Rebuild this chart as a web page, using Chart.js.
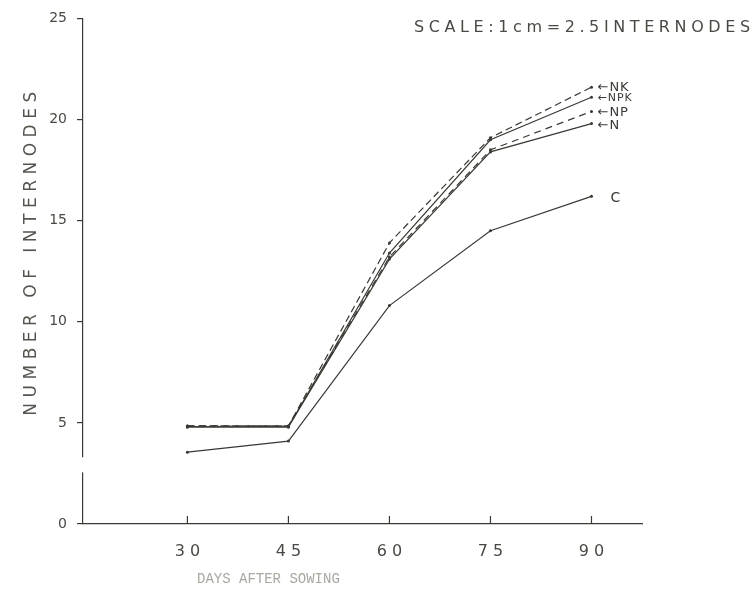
<!DOCTYPE html>
<html>
<head>
<meta charset="utf-8">
<script src="https://cdn.jsdelivr.net/npm/chart.js@4/dist/chart.umd.min.js"></script>
<style>
  html, body { margin: 0; padding: 0; background: #fff; }
  #wrap { width: 756px; height: 594px; }
</style>
</head>
<body>
<div id="wrap"><canvas id="graph" width="756" height="594"></canvas></div>
<script>
// days after sowing
const days = [30, 45, 60, 75, 90];
const yTicks = [0, 5, 10, 15, 20, 25];

// number of internodes per treatment
const nk  = [4.85, 4.85, 13.9, 19.1, 21.6];
const npk = [4.8, 4.8, 13.4, 19.0, 21.1];
const np  = [4.85, 4.85, 13.2, 18.5, 20.4];
const n   = [4.8, 4.8, 13.1, 18.4, 19.8];
const c   = [3.55, 4.1, 10.8, 14.5, 16.2];

const names = ['NK', 'NPK', 'NP', 'N', 'C'];
const series = [nk, npk, np, n, c];
const dashes = [[7, 4], [], [7, 5], [], []];

const ink = '#3a3a34';

const datasets = series.map((vals, i) => ({
  label: names[i],
  data: vals.map((v, j) => ({ x: days[j], y: v })),
  borderColor: ink,
  borderWidth: 1.2,
  borderDash: dashes[i],
  pointRadius: 1.5,
  pointBackgroundColor: ink,
  pointBorderWidth: 0,
  fill: false,
  tension: 0
}));

// hand drawn bits: x ticks pointing up, broken y axis, titles and curve labels
const extras = {
  id: 'extras',
  afterDraw(chart) {
    const ctx = chart.ctx;
    const xs = chart.scales.x, ys = chart.scales.y;
    const base = ys.getPixelForValue(0);
    ctx.save();
    ctx.strokeStyle = ink;
    ctx.lineWidth = 1.2;
    days.forEach(d => {
      const px = xs.getPixelForValue(d);
      ctx.beginPath();
      ctx.moveTo(px, base);
      ctx.lineTo(px, base - 8);
      ctx.stroke();
    });

    // gap in the y axis
    ctx.fillStyle = '#fff';
    const g1 = ys.getPixelForValue(3.3), g2 = ys.getPixelForValue(2.55);
    ctx.fillRect(xs.left - 3, g1, 6, g2 - g1);

    // scale note
    ctx.fillStyle = '#4a4a44';
    ctx.font = '16px "DejaVu Sans"';
    ctx.letterSpacing = '4.6px';
    ctx.textAlign = 'left';
    ctx.textBaseline = 'middle';
    ctx.fillText('SCALE:1cm=2.5INTERNODES', 414, 28);

    // y title
    ctx.save();
    ctx.translate(32, 251);
    ctx.rotate(-Math.PI / 2);
    ctx.textAlign = 'center';
    ctx.font = '17px "DejaVu Sans"';
    ctx.letterSpacing = '5.5px';
    ctx.fillStyle = '#55554f';
    ctx.fillText('NUMBER OF INTERNODES', 0, 0);
    ctx.restore();

    // x title
    ctx.font = '14px "Liberation Mono"';
    ctx.letterSpacing = '0px';
    ctx.fillStyle = '#a8a8a0';
    ctx.textAlign = 'left';
    ctx.fillText('DAYS AFTER SOWING', 197, 579);

    // curve labels
    ctx.fillStyle = '#3a3a34';
    const offs = [0, 1, 1, 2, 0];
    series.forEach((vals, i) => {
      const last = vals[vals.length - 1];
      const py = ys.getPixelForValue(last) + offs[i];
      const px = xs.getPixelForValue(days[days.length - 1]);
      if (names[i] === 'C') {
        ctx.font = '14px "DejaVu Sans"';
        ctx.fillText('C', px + 19, py + 2);
      } else {
        ctx.font = (names[i] === 'NPK' ? '11px' : '13px') + ' "DejaVu Sans"';
        ctx.letterSpacing = '1px';
        ctx.fillText('\u2190' + names[i], px + 6, py);
      }
    });
    ctx.restore();
  }
};

new Chart(document.getElementById('graph').getContext('2d'), {
  type: 'line',
  data: { datasets },
  options: {
    responsive: false,
    animation: false,
    layout: { padding: { top: 14, right: 114, left: 0, bottom: 0 } },
    plugins: { legend: { display: false }, tooltip: { enabled: false } },
    scales: {
      x: {
        type: 'linear',
        min: 14.5,
        max: 97.5,
        afterBuildTicks: s => { s.ticks = days.map(v => ({ value: v })); },
        afterFit: s => { s.height = 70; },
        grid: { display: false },
        border: { display: true, color: ink, width: 1.2 },
        ticks: {
          padding: 10,
          color: '#4a4a44',
          font: { family: 'DejaVu Sans', size: 16 },
          callback: v => String(v).split('').join(' ')
        }
      },
      y: {
        min: 0,
        max: 25,
        afterBuildTicks: s => { s.ticks = yTicks.map(v => ({ value: v })); },
        afterFit: s => { s.width = 83; },
        grid: { display: true, drawOnChartArea: false, drawTicks: true, tickLength: 6, color: ink, lineWidth: 1.2 },
        border: { display: true, color: ink, width: 1.2 },
        ticks: {
          padding: 10,
          color: '#4a4a44',
          font: { family: 'DejaVu Sans', size: 14 },
          callback: v => String(v)
        }
      }
    }
  },
  plugins: [extras]
});
</script>
</body>
</html>
